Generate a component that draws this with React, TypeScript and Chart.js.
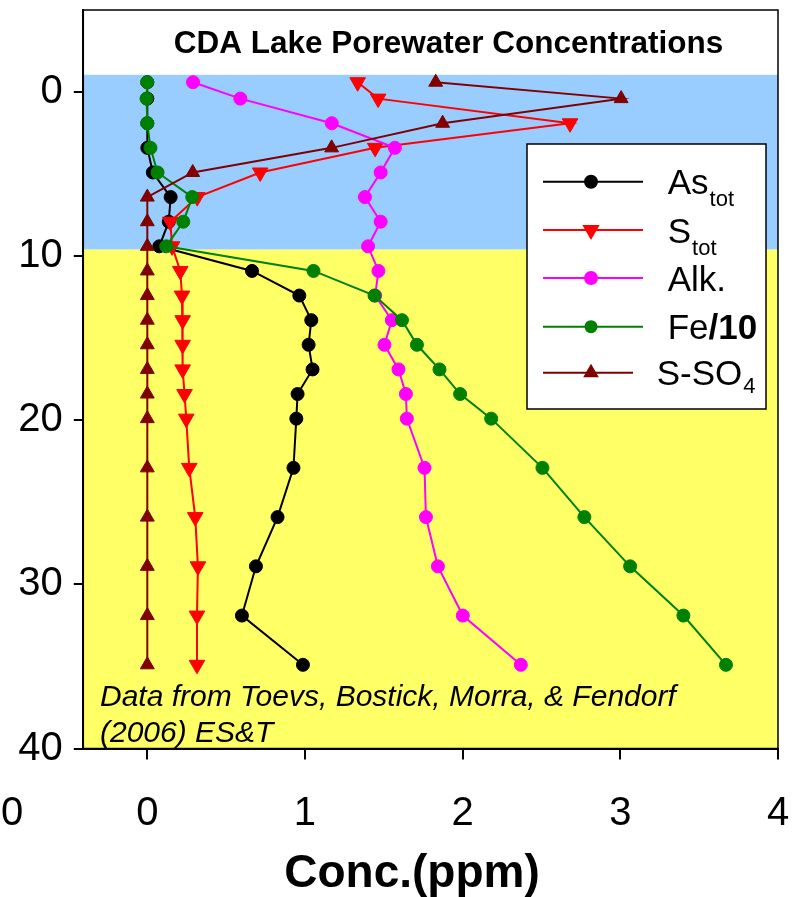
import React, { useEffect, useRef } from 'react';
import { Chart, registerables } from 'chart.js';

Chart.register(...registerables);

const FONT = "'Liberation Sans', Arial, Helvetica, sans-serif";

// Sample depths below the sediment-water interface (cm)
const depths = [-0.6, 0.4, 1.9, 3.4, 4.9, 6.4, 7.9, 9.4, 10.9, 12.4, 13.9, 15.4, 16.9, 18.4, 19.9, 22.9, 25.9, 28.9, 31.9, 34.9];

// Porewater concentrations (ppm) at each depth
const asTot = [0.0, 0.0, 0.0, 0.0, 0.035, 0.148, 0.136, 0.076, 0.664, 0.964, 1.04, 1.023, 1.048, 0.953, 0.945, 0.927, 0.826, 0.689, 0.6, 0.987];
const sTot = [1.334, 1.464, 2.681, 1.445, 0.716, 0.317, 0.146, 0.157, 0.209, 0.22, 0.224, 0.224, 0.224, 0.236, 0.247, 0.266, 0.304, 0.321, 0.315, 0.315];
const alk = [0.29, 0.59, 1.17, 1.57, 1.48, 1.38, 1.48, 1.4, 1.466, 1.445, 1.551, 1.504, 1.593, 1.64, 1.646, 1.758, 1.767, 1.843, 2.001, 2.369];
const feOver10 = [0.0, -0.005, 0.0, 0.02, 0.065, 0.285, 0.228, 0.12, 1.054, 1.441, 1.615, 1.71, 1.853, 1.984, 2.181, 2.506, 2.772, 3.062, 3.4, 3.67];
const sSO4 = [1.829, 3.005, 1.873, 1.169, 0.288, 0, 0, 0, 0, 0, 0, 0, 0, 0, 0, 0, 0, 0, 0, 0];

const xTicks = [0, 1, 2, 3, 4];
const yTicks = [0, 10, 20, 30, 40];
const xRange = [-0.406, 4];
const yRange = [-5, 40];

// Depth band of the overlying lake water; sediment lies below it
const waterBand = [-1.05, 9.6];

const chartTitle = 'CDA Lake Porewater Concentrations';
const xAxisTitle = 'Conc.(ppm)';
const sourceNote = ['Data from Toevs, Bostick, Morra, & Fendorf', '(2006) ES&T'];

type Run = { t: string; bold?: boolean; sub?: boolean };
type Series = {
  values: number[];
  color: string;
  marker: 'circle' | 'down' | 'up';
  radius: number;
  legendRadius: number;
  order: number;
  runs: Run[];
  subDrop: number;
  textDx: number;
};

const series: Series[] = [
  { values: asTot, color: '#000000', marker: 'circle', radius: 6.5, legendRadius: 7, order: 5, runs: [{ t: 'As' }, { t: 'tot', sub: true }], subDrop: 12, textDx: 0 },
  { values: sTot, color: '#FF0000', marker: 'down', radius: 9, legendRadius: 10, order: 4, runs: [{ t: 'S' }, { t: 'tot', sub: true }], subDrop: 12, textDx: 0 },
  { values: alk, color: '#FF00FF', marker: 'circle', radius: 6.5, legendRadius: 7, order: 3, runs: [{ t: 'Alk.' }], subDrop: 0, textDx: 0 },
  { values: feOver10, color: '#008000', marker: 'circle', radius: 6.5, legendRadius: 6.5, order: 2, runs: [{ t: 'Fe' }, { t: '/10', bold: true }], subDrop: 0, textDx: 0 },
  { values: sSO4, color: '#800000', marker: 'up', radius: 8, legendRadius: 9, order: 1, runs: [{ t: 'S-SO' }, { t: '4', sub: true }], subDrop: 8, textDx: -11 },
];

function drawMarker(ctx: CanvasRenderingContext2D, kind: string, x: number, y: number, r: number, color: string) {
  ctx.fillStyle = color;
  ctx.beginPath();
  if (kind === 'circle') {
    ctx.arc(x, y, r, 0, Math.PI * 2);
  } else {
    const dir = kind === 'up' ? -1 : 1;
    const h = r * 0.866;
    ctx.moveTo(x, y + dir * r);
    ctx.lineTo(x - h, y - dir * r * 0.5);
    ctx.lineTo(x + h, y - dir * r * 0.5);
    ctx.closePath();
  }
  ctx.fill();
}

function noAutoPadding(axis: any) {
  axis.paddingTop = 0;
  axis.paddingBottom = 0;
  axis.paddingLeft = 0;
  axis.paddingRight = 0;
}

const backdropPlugin = {
  id: 'backdrop',
  beforeDraw(chart: any) {
    const { ctx, chartArea: a, scales } = chart;
    const y = scales.y;
    ctx.save();
    ctx.fillStyle = '#FFFFFF';
    ctx.fillRect(0, 0, chart.width, chart.height);
    const yWaterTop = y.getPixelForValue(waterBand[0]);
    const yInterface = y.getPixelForValue(waterBand[1]);
    const ySedBottom = y.getPixelForValue(yRange[1]);
    ctx.fillStyle = '#99CCFF';
    ctx.fillRect(a.left, yWaterTop, a.right - a.left, yInterface - yWaterTop);
    ctx.fillStyle = '#FFFF66';
    ctx.fillRect(a.left, yInterface, a.right - a.left, ySedBottom - yInterface);
    ctx.strokeStyle = '#000000';
    ctx.lineWidth = 1.5;
    ctx.strokeRect(a.left, a.top, a.right - a.left, a.bottom - a.top);
    ctx.restore();
  },
};

const overlayPlugin = {
  id: 'overlay',
  afterDraw(chart: any) {
    const { ctx } = chart;
    ctx.save();
    ctx.fillStyle = '#000000';
    ctx.textBaseline = 'alphabetic';

    // chart heading inside the plot frame
    ctx.font = `bold 31.5px ${FONT}`;
    ctx.textAlign = 'center';
    ctx.fillText(chartTitle, 448.5, 52.5);

    // citation
    ctx.font = `italic 30px ${FONT}`;
    ctx.textAlign = 'left';
    ctx.fillText(sourceNote[0], 100, 706);
    ctx.fillText(sourceNote[1], 100, 742);

    // stray zero at the far left of the tick row
    ctx.font = `40px ${FONT}`;
    ctx.textAlign = 'center';
    ctx.textBaseline = 'middle';
    ctx.fillText('0', 12, 814);

    // axis title
    ctx.textBaseline = 'alphabetic';
    ctx.font = `bold 46px ${FONT}`;
    ctx.fillText(xAxisTitle, 412, 887);

    // legend box
    ctx.fillStyle = '#FFFFFF';
    ctx.fillRect(527, 144, 239, 265);
    ctx.strokeStyle = '#000000';
    ctx.lineWidth = 1.5;
    ctx.strokeRect(527, 144, 239, 265);

    const rowY = [181.7, 230, 278, 326.7, 372.7];
    series.forEach((s, i) => {
      const y = rowY[i];
      ctx.strokeStyle = s.color;
      ctx.lineWidth = 2;
      ctx.beginPath();
      ctx.moveTo(543, y);
      ctx.lineTo(s.marker === 'up' ? 633 : 643, y);
      ctx.stroke();
      drawMarker(ctx, s.marker, 591, y, s.legendRadius, s.color);

      ctx.fillStyle = '#000000';
      ctx.textAlign = 'left';
      let x = 667.7 + s.textDx;
      const base = y + 12.5;
      s.runs.forEach((r) => {
        if (r.sub) {
          ctx.font = `22px ${FONT}`;
          ctx.fillText(r.t, x + 1, base + s.subDrop);
          x += ctx.measureText(r.t).width + 1;
        } else {
          ctx.font = `${r.bold ? 'bold ' : ''}35px ${FONT}`;
          ctx.fillText(r.t, x, base);
          x += ctx.measureText(r.t).width;
        }
      });
    });
    ctx.restore();
  },
};

export default function App() {
  const canvasRef = useRef<HTMLCanvasElement | null>(null);

  useEffect(() => {
    const canvas = canvasRef.current;
    if (!canvas) return;

    const datasets = series.map((s) => ({
      data: depths.map((d, i) => ({ x: s.values[i], y: d })),
      showLine: true,
      borderColor: s.color,
      backgroundColor: s.color,
      borderWidth: 2,
      tension: 0,
      pointStyle: s.marker === 'circle' ? 'circle' : 'triangle',
      pointRotation: s.marker === 'down' ? 180 : 0,
      pointRadius: s.radius,
      pointBorderWidth: 1,
      pointBorderColor: s.color,
      pointBackgroundColor: s.color,
      order: s.order,
    }));

    const chart = new Chart(canvas, {
      type: 'scatter',
      data: { datasets } as any,
      options: {
        animation: false,
        responsive: true,
        maintainAspectRatio: false,
        layout: { padding: { top: 5, right: 22, left: 0, bottom: 0 } },
        plugins: {
          legend: { display: false },
          tooltip: { enabled: false },
        },
        scales: {
          x: {
            type: 'linear',
            min: xRange[0],
            max: xRange[1],
            afterBuildTicks: (axis: any) => {
              axis.ticks = xTicks.map((v) => ({ value: v }));
            },
            afterFit: (axis: any) => {
              axis.height = 148.5;
              noAutoPadding(axis);
            },
            grid: { drawOnChartArea: false, drawTicks: true, tickLength: 11, color: '#000000', lineWidth: 2 },
            border: { display: true, color: '#000000', width: 2 },
            ticks: { color: '#000000', font: { family: FONT, size: 40 }, padding: 30, maxRotation: 0, autoSkip: false },
          },
          y: {
            type: 'linear',
            reverse: true,
            min: yRange[0],
            max: yRange[1],
            afterBuildTicks: (axis: any) => {
              axis.ticks = yTicks.map((v) => ({ value: v }));
            },
            afterFit: (axis: any) => {
              axis.width = 83.3;
              noAutoPadding(axis);
            },
            grid: { drawOnChartArea: false, drawTicks: true, tickLength: 9.5, color: '#000000', lineWidth: 2 },
            border: { display: true, color: '#000000', width: 2 },
            ticks: { color: '#000000', font: { family: FONT, size: 40 }, padding: 11, autoSkip: false },
          },
        },
      } as any,
      plugins: [backdropPlugin, overlayPlugin],
    });

    return () => chart.destroy();
  }, []);

  return (
    <div style={{ position: 'fixed', left: 0, top: 0, width: 800, height: 897, background: '#FFFFFF' }}>
      <canvas ref={canvasRef} />
    </div>
  );
}
